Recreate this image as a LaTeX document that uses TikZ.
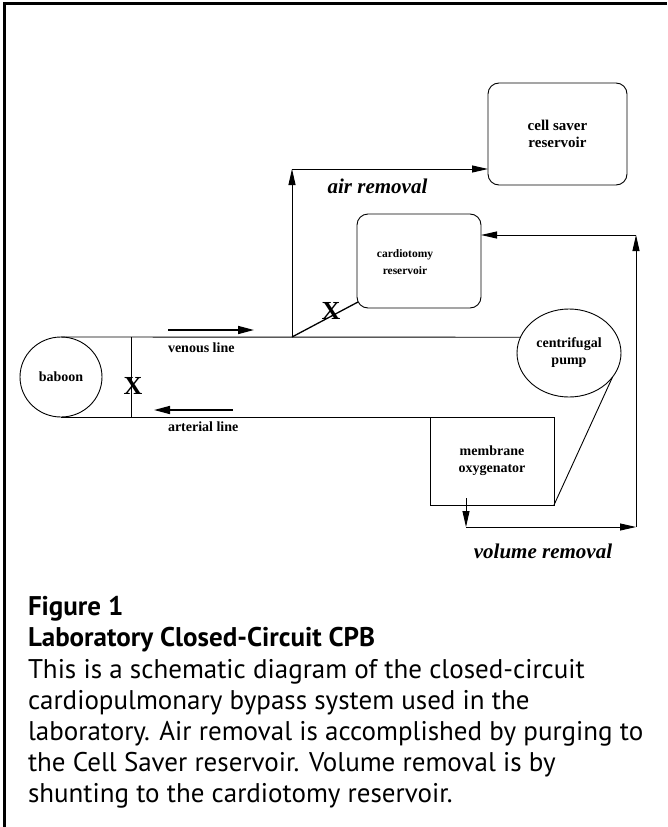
\documentclass[tikz,border=0pt]{standalone}
\usepackage{fontspec}
\setmainfont{Liberation Serif}
\newfontfamily\capfont{PT Sans}
\usetikzlibrary{arrows.meta,shapes.geometric}
\begin{document}
\begin{tikzpicture}[x=1pt,y=-1pt,
  every node/.style={inner sep=0pt, outer sep=0pt},
  lbl/.style={font=\fontsize{14}{17}\selectfont\bfseries, align=center},
  rbox/.style={draw, line width=0.9pt, rounded corners=11pt, rectangle},
  sbox/.style={draw, line width=0.9pt, rectangle},
  oval/.style={draw, line width=0.9pt, ellipse},
  ln/.style={line width=0.9pt},
  arr/.style={line width=0.9pt, -{Triangle[length=16pt,width=7pt]}},
  farr/.style={line width=1.6pt, -{Triangle[length=16pt,width=8pt]}},
  xmark/.style={font=\fontsize{26}{26}\selectfont\bfseries},
  rlbl/.style={font=\fontsize{21}{21}\selectfont\bfseries\itshape},
  captxt/.style={anchor=base west, font=\capfont\fontsize{27}{31}\selectfont},
  caphead/.style={anchor=base west, font=\capfont\bfseries\fontsize{27}{31}\selectfont},
]
\useasboundingbox (0,0) rectangle (667,827);
% frame (top and left only)
\draw[line width=3pt] (4,827) -- (4,3.5) -- (667,3.5);

% boxes
\node[rbox, lbl, font=\fontsize{15}{17}\selectfont\bfseries, minimum width=139pt, minimum height=102pt] (cs) at (557.5,134) {cell saver\\reservoir};
\node[rbox, minimum width=124pt, minimum height=94pt] (ct) at (419,261) {};
\node[lbl, font=\fontsize{11.5}{17}\selectfont\bfseries] (ctl) at (405,262) {cardiotomy\\reservoir};
\node[oval, lbl, minimum width=82pt, minimum height=80pt] (bab) at (61,377) {baboon};
\node[oval, lbl, minimum width=104pt, minimum height=88pt] (pump) at (569,353) {centrifugal\\pump};
\node[sbox, lbl, minimum width=124pt, minimum height=88pt] (oxy) at (492,461) {membrane\\oxygenator};

% coordinates
\coordinate (j) at (292,337);
\coordinate (airTop) at (292,169);
\coordinate (xv) at (131,337);
\coordinate (xa) at (131,417);
\coordinate (ctc) at (358,302);
\coordinate (vd0) at (466,498);
\coordinate (vd1) at (466,527);
\coordinate (vr) at (636,527);
\coordinate (vrTop) at (636,235);
\coordinate (va0) at (168,330);
\coordinate (va1) at (254,330);
\coordinate (aa0) at (233,410);
\coordinate (aa1) at (154,410);

% circuit lines
\draw[ln] (bab.north) -- (pump.162);
\draw[ln] (oxy.north east) -- (bab.south);
\draw[ln] (xv) -- (xa);
\draw[ln] (oxy.south east) -- (pump.-29);
\draw[line width=1.3pt] (j) -- (ctc);

% air removal
\draw[arr] (j) -- (airTop);
\draw[arr] (airTop) -- (airTop -| cs.west);

% volume removal
\draw[arr] (vd0) -- (vd1);
\draw[arr] (vd1) -- (vr);
\draw[arr] (vr) -- (vrTop);
\draw[arr] (vrTop) -- (vrTop -| ct.east);

% flow arrows
\draw[farr] (va0) -- (va1);
\draw[farr] (aa0) -- (aa1);

% labels
\node[lbl, anchor=west] (vl) at (168,348) {venous line};
\node[lbl, anchor=west] (al) at (168,427) {arterial line};
\node[xmark] (x1) at (133,386) {X};
\node[xmark] (x2) at (331,311) {X};
\node[rlbl] (air) at (377.5,186) {air removal};
\node[rlbl] (vol) at (543,551) {volume removal};

% caption
\node[caphead] (c1) at (28,615) {Figure 1};
\node[caphead] (c2) at (28,646) {Laboratory Closed-Circuit CPB};
\node[captxt] (c3) at (28,678) {This is a schematic diagram of the closed-circuit};
\node[captxt] (c4) at (28,709) {cardiopulmonary bypass system used in the};
\node[captxt] (c5) at (28,740) {laboratory. Air removal is accomplished by purging to};
\node[captxt] (c6) at (28,771) {the Cell Saver reservoir. Volume removal is by};
\node[captxt] (c7) at (28,802) {shunting to the cardiotomy reservoir.};
\end{tikzpicture}
\end{document}
